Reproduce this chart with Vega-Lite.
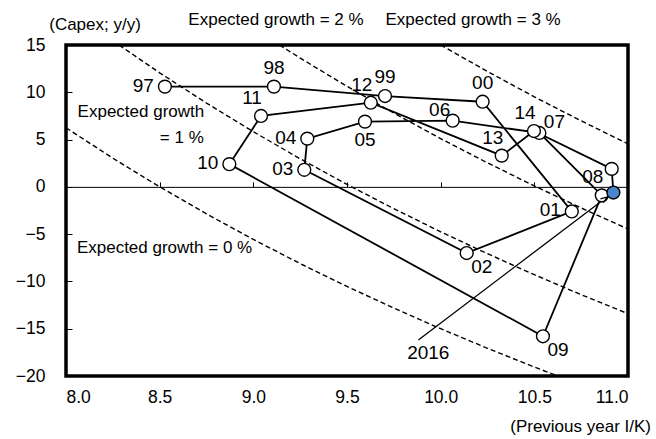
{
  "$schema": "https://vega.github.io/schema/vega-lite/v6.json",
  "width": 562,
  "height": 331,
  "autosize": "none",
  "padding": {"left": 66, "top": 45, "right": 28, "bottom": 63},
  "background": "white",
  "config": {
    "view": {"stroke": "black", "strokeWidth": 3.5},
    "font": "Liberation Sans",
    "text": {"font": "Liberation Sans", "color": "black"},
    "axis": {"labelColor": "black", "titleColor": "black", "labelFont": "Liberation Sans", "titleFont": "Liberation Sans"}
  },
  "datasets": {
    "pts": [
      {"label": "97", "yr": 1997, "x": 8.528, "y": 10.6},
      {"label": "98", "yr": 1998, "x": 9.11, "y": 10.6},
      {"label": "99", "yr": 1999, "x": 9.703, "y": 9.6},
      {"label": "00", "yr": 2000, "x": 10.224, "y": 9.0},
      {"label": "01", "yr": 2001, "x": 10.7, "y": -2.6},
      {"label": "02", "yr": 2002, "x": 10.139, "y": -7.0},
      {"label": "03", "yr": 2003, "x": 9.272, "y": 1.8},
      {"label": "04", "yr": 2004, "x": 9.288, "y": 5.1},
      {"label": "05", "yr": 2005, "x": 9.596, "y": 6.9},
      {"label": "06", "yr": 2006, "x": 10.064, "y": 7.0},
      {"label": "07", "yr": 2007, "x": 10.527, "y": 5.7},
      {"label": "08", "yr": 2008, "x": 10.86, "y": -0.9},
      {"label": "09", "yr": 2009, "x": 10.546, "y": -15.8},
      {"label": "10", "yr": 2010, "x": 8.872, "y": 2.4},
      {"label": "11", "yr": 2011, "x": 9.041, "y": 7.5},
      {"label": "12", "yr": 2012, "x": 9.627, "y": 8.9},
      {"label": "13", "yr": 2013, "x": 10.326, "y": 3.3},
      {"label": "14", "yr": 2014, "x": 10.498, "y": 5.9},
      {"label": "15", "yr": 2015, "x": 10.913, "y": 1.9},
      {"label": "16", "yr": 2016, "x": 10.922, "y": -0.6}
    ],
    "curves": [
      {"g": 0, "x": 8.0, "y": 6.25},
      {"g": 0, "x": 8.25, "y": 3.03},
      {"g": 0, "x": 8.5, "y": 0.0},
      {"g": 0, "x": 8.75, "y": -2.86},
      {"g": 0, "x": 9.0, "y": -5.56},
      {"g": 0, "x": 9.25, "y": -8.11},
      {"g": 0, "x": 9.5, "y": -10.53},
      {"g": 0, "x": 9.75, "y": -12.82},
      {"g": 0, "x": 10.0, "y": -15.0},
      {"g": 0, "x": 10.25, "y": -17.07},
      {"g": 0, "x": 10.5, "y": -19.05},
      {"g": 0, "x": 10.625, "y": -20.0},
      {"g": 1, "x": 8.283, "y": 15.0},
      {"g": 1, "x": 8.5, "y": 12.06},
      {"g": 1, "x": 8.75, "y": 8.86},
      {"g": 1, "x": 9.0, "y": 5.83},
      {"g": 1, "x": 9.25, "y": 2.97},
      {"g": 1, "x": 9.5, "y": 0.26},
      {"g": 1, "x": 9.75, "y": -2.31},
      {"g": 1, "x": 10.0, "y": -4.75},
      {"g": 1, "x": 10.25, "y": -7.07},
      {"g": 1, "x": 10.5, "y": -9.29},
      {"g": 1, "x": 10.75, "y": -11.4},
      {"g": 1, "x": 11.0, "y": -13.41},
      {"g": 2, "x": 9.139, "y": 15.0},
      {"g": 2, "x": 9.25, "y": 13.62},
      {"g": 2, "x": 9.5, "y": 10.63},
      {"g": 2, "x": 9.75, "y": 7.8},
      {"g": 2, "x": 10.0, "y": 5.1},
      {"g": 2, "x": 10.25, "y": 2.54},
      {"g": 2, "x": 10.5, "y": 0.1},
      {"g": 2, "x": 10.75, "y": -2.23},
      {"g": 2, "x": 11.0, "y": -4.46},
      {"g": 3, "x": 10.0, "y": 15.0},
      {"g": 3, "x": 10.25, "y": 12.2},
      {"g": 3, "x": 10.5, "y": 9.52},
      {"g": 3, "x": 10.75, "y": 6.98},
      {"g": 3, "x": 11.0, "y": 4.55}
    ],
    "notes": [
      {"text": "Expected growth = 2 %", "x": 9.121, "y": 17.6},
      {"text": "Expected growth = 3 %", "x": 10.173, "y": 17.6},
      {"text": "Expected growth", "x": 8.4, "y": 7.95},
      {"text": "= 1 %", "x": 8.618, "y": 5.17},
      {"text": "Expected growth = 0 %", "x": 8.526, "y": -6.47},
      {"text": "(Capex; y/y)", "x": 8.155, "y": 17.1},
      {"text": "(Previous year I/K)", "x": 10.747, "y": -25.4}
    ],
    "arrow": [
      {"o": 0, "x": 9.881, "y": -16.19},
      {"o": 1, "x": 10.888, "y": -1.07}
    ]
  },
  "resolve": {"axis": {"x": "independent"}},
  "layer": [
    {
      "data": {"name": "curves"},
      "mark": {"type": "line", "color": "black", "strokeWidth": 1.4, "strokeDash": [5, 3]},
      "encoding": {
        "x": {
          "field": "x", "type": "quantitative",
          "scale": {"domain": [8, 11], "nice": false, "zero": false},
          "axis": {
            "orient": "bottom", "values": [8, 8.5, 9, 9.5, 10, 10.5, 11], "format": ".1f",
            "ticks": false, "domain": false, "grid": false, "labelPadding": 12, "labelFontSize": 17.5,
            "title": null
          }
        },
        "y": {
          "field": "y", "type": "quantitative",
          "scale": {"domain": [-20, 15], "nice": false, "zero": false},
          "axis": {
            "values": [-20, -15, -10, -5, 0, 5, 10, 15], "tickSize": -6, "ticks": true, "tickColor": "black",
            "domain": false, "grid": false, "labelPadding": 27, "labelFontSize": 17.5,
            "title": null
          }
        },
        "detail": {"field": "g"}
      }
    },
    {
      "data": {"name": "pts"},
      "mark": {"type": "line", "color": "black", "strokeWidth": 1.8},
      "encoding": {
        "x": {
          "field": "x", "type": "quantitative",
          "axis": {
            "orient": "top", "offset": -141.86, "values": [8.5, 9, 9.5, 10, 10.5], "labels": false,
            "ticks": true, "tickSize": 5, "tickColor": "black", "tickWidth": 1, "domain": true,
            "domainColor": "black", "domainWidth": 1, "grid": false, "title": null
          }
        },
        "y": {"field": "y", "type": "quantitative"},
        "order": {"field": "yr"}
      }
    },
    {
      "data": {"name": "arrow"},
      "mark": {"type": "line", "color": "black", "strokeWidth": 1.3},
      "encoding": {
        "x": {"field": "x", "type": "quantitative", "axis": null},
        "y": {"field": "y", "type": "quantitative"},
        "order": {"field": "o"}
      }
    },
    {
      "data": {"name": "pts"},
      "mark": {"type": "point", "filled": false, "size": 165, "stroke": "black", "strokeWidth": 1.4, "opacity": 1},
      "encoding": {
        "x": {"field": "x", "type": "quantitative", "axis": null},
        "y": {"field": "y", "type": "quantitative"},
        "fill": {"condition": {"test": "datum.label === '16'", "value": "#4a84cc"}, "value": "white"},
        "fillOpacity": {"value": 1}
      }
    },
    {
      "data": {"name": "arrow"},
      "transform": [{"filter": "datum.o === 1"}],
      "mark": {"type": "point", "shape": "M-0.7,1.8L0,0L0.7,1.8", "filled": false, "size": 50, "stroke": "black", "strokeWidth": 1.3, "angle": 53, "opacity": 1},
      "encoding": {
        "x": {"field": "x", "type": "quantitative", "axis": null},
        "y": {"field": "y", "type": "quantitative"}
      }
    },
    {
      "data": {"name": "pts"},
      "transform": [{"filter": {"field": "label", "oneOf": ["97", "10", "04", "03", "01"]}}],
      "mark": {"type": "text", "fontSize": 19, "align": "right", "baseline": "middle", "dx": -11, "dy": -1},
      "encoding": {
        "x": {"field": "x", "type": "quantitative", "axis": null},
        "y": {"field": "y", "type": "quantitative"},
        "text": {"field": "label"}
      }
    },
    {
      "data": {"name": "pts"},
      "transform": [{"filter": {"field": "label", "oneOf": ["98", "99", "00"]}}],
      "mark": {"type": "text", "fontSize": 19, "align": "center", "baseline": "middle", "dy": -19},
      "encoding": {
        "x": {"field": "x", "type": "quantitative", "axis": null},
        "y": {"field": "y", "type": "quantitative"},
        "text": {"field": "label"}
      }
    },
    {
      "data": {"name": "pts"},
      "transform": [{"filter": {"field": "label", "oneOf": ["12", "14", "08", "13", "11"]}}],
      "mark": {"type": "text", "fontSize": 19, "align": "center", "baseline": "middle", "dx": -9, "dy": -18},
      "encoding": {
        "x": {"field": "x", "type": "quantitative", "axis": null},
        "y": {"field": "y", "type": "quantitative"},
        "text": {"field": "label"}
      }
    },
    {
      "data": {"name": "pts"},
      "transform": [{"filter": {"field": "label", "oneOf": ["06"]}}],
      "mark": {"type": "text", "fontSize": 19, "align": "center", "baseline": "middle", "dx": -13, "dy": -11},
      "encoding": {
        "x": {"field": "x", "type": "quantitative", "axis": null},
        "y": {"field": "y", "type": "quantitative"},
        "text": {"field": "label"}
      }
    },
    {
      "data": {"name": "pts"},
      "transform": [{"filter": {"field": "label", "oneOf": ["07"]}}],
      "mark": {"type": "text", "fontSize": 19, "align": "center", "baseline": "middle", "dx": 15, "dy": -11},
      "encoding": {
        "x": {"field": "x", "type": "quantitative", "axis": null},
        "y": {"field": "y", "type": "quantitative"},
        "text": {"field": "label"}
      }
    },
    {
      "data": {"name": "pts"},
      "transform": [{"filter": {"field": "label", "oneOf": ["05"]}}],
      "mark": {"type": "text", "fontSize": 19, "align": "center", "baseline": "middle", "dy": 18},
      "encoding": {
        "x": {"field": "x", "type": "quantitative", "axis": null},
        "y": {"field": "y", "type": "quantitative"},
        "text": {"field": "label"}
      }
    },
    {
      "data": {"name": "pts"},
      "transform": [{"filter": {"field": "label", "oneOf": ["02", "09"]}}],
      "mark": {"type": "text", "fontSize": 19, "align": "center", "baseline": "middle", "dx": 15, "dy": 14},
      "encoding": {
        "x": {"field": "x", "type": "quantitative", "axis": null},
        "y": {"field": "y", "type": "quantitative"},
        "text": {"field": "label"}
      }
    },
    {
      "data": {"name": "notes"},
      "mark": {"type": "text", "fontSize": 17, "align": "center", "baseline": "middle"},
      "encoding": {
        "x": {"field": "x", "type": "quantitative", "axis": null},
        "y": {"field": "y", "type": "quantitative"},
        "text": {"field": "text"}
      }
    },
    {
      "data": {"values": [{"text": "2016", "x": 9.934, "y": -17.6}]},
      "mark": {"type": "text", "fontSize": 19, "align": "center", "baseline": "middle"},
      "encoding": {
        "x": {"field": "x", "type": "quantitative", "axis": null},
        "y": {"field": "y", "type": "quantitative"},
        "text": {"field": "text"}
      }
    }
  ]
}
